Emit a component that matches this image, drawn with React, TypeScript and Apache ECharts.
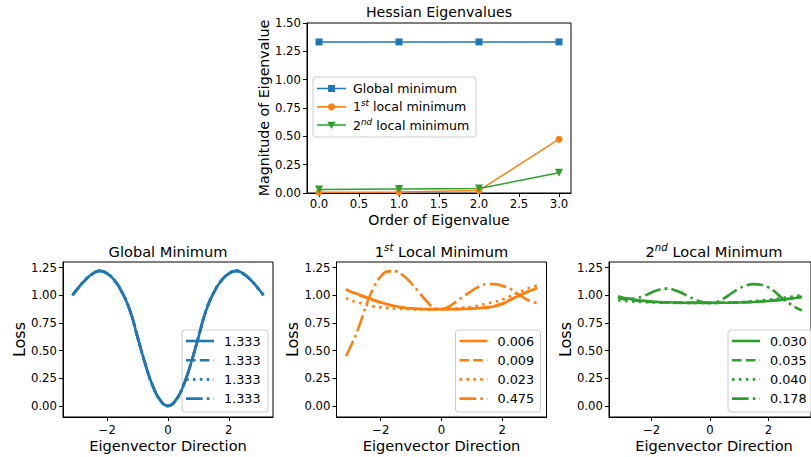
import React, { useEffect, useRef } from 'react';
import * as echarts from 'echarts';

const FONT = 'DejaVu Sans';
const BLUE = '#1f77b4';
const ORANGE = '#ff7f0e';
const GREEN = '#2ca02c';

// ---- Top chart: Hessian eigenvalues ----
const orders = [0, 1, 2, 3];
const globalEig = [1.333, 1.333, 1.333, 1.333];
const local1Eig = [0.006, 0.009, 0.023, 0.475];
const local2Eig = [0.030, 0.035, 0.040, 0.178];
const orderTicks = [0, 0.5, 1, 1.5, 2, 2.5, 3];

// ---- Bottom charts: loss along eigenvector directions ----
const directions = [-3.1416, -3.0, -2.75, -2.5, -2.25, -2.0, -1.75, -1.5, -1.25, -1.0, -0.75, -0.5, -0.25, 0, 0.25, 0.5, 0.75, 1.0, 1.25, 1.5, 1.75, 2.0, 2.25, 2.5, 2.75, 3.0, 3.1416];
const dirTicks = [-2, 0, 2];
const lossTicks = [0, 0.25, 0.5, 0.75, 1.0, 1.25];

const globalLoss = [1.00, 1.05, 1.13, 1.19, 1.22, 1.195, 1.13, 1.02, 0.86, 0.62, 0.38, 0.18, 0.05, 0.00, 0.05, 0.18, 0.38, 0.62, 0.86, 1.02, 1.13, 1.195, 1.22, 1.19, 1.13, 1.05, 1.00];
const globalLabels = ['1.333', '1.333', '1.333', '1.333'];

const local1Solid = [1.055, 1.035, 1.01, 0.985, 0.96, 0.937, 0.917, 0.9, 0.889, 0.881, 0.877, 0.875, 0.874, 0.874, 0.874, 0.875, 0.877, 0.879, 0.883, 0.888, 0.9, 0.92, 0.955, 0.99, 1.02, 1.048, 1.06];
const local1Dashed = [1.05, 1.032, 1.005, 0.98, 0.955, 0.933, 0.914, 0.898, 0.887, 0.88, 0.876, 0.874, 0.873, 0.873, 0.873, 0.874, 0.876, 0.879, 0.884, 0.891, 0.904, 0.925, 0.958, 0.992, 1.022, 1.05, 1.064];
const local1Dotted = [0.975, 0.955, 0.935, 0.915, 0.9, 0.89, 0.883, 0.878, 0.875, 0.873, 0.872, 0.872, 0.873, 0.875, 0.877, 0.88, 0.888, 0.895, 0.91, 0.925, 0.94, 0.96, 0.99, 1.02, 1.05, 1.075, 1.087];
const local1DashDot = [0.45, 0.53, 0.69, 0.89, 1.06, 1.17, 1.215, 1.215, 1.175, 1.11, 1.03, 0.95, 0.89, 0.875, 0.9, 0.945, 0.995, 1.04, 1.08, 1.1, 1.1, 1.085, 1.06, 1.015, 0.97, 0.94, 0.93];
const local1Labels = ['0.006', '0.009', '0.023', '0.475'];

const local2Solid = [0.99, 0.98, 0.967, 0.957, 0.949, 0.943, 0.939, 0.936, 0.934, 0.933, 0.932, 0.932, 0.932, 0.932, 0.932, 0.932, 0.933, 0.934, 0.936, 0.939, 0.943, 0.948, 0.953, 0.96, 0.968, 0.978, 0.985];
const local2Dashed = [0.975, 0.967, 0.958, 0.951, 0.945, 0.94, 0.937, 0.935, 0.933, 0.932, 0.931, 0.931, 0.931, 0.931, 0.931, 0.932, 0.933, 0.935, 0.938, 0.941, 0.945, 0.95, 0.956, 0.963, 0.971, 0.98, 0.988];
const local2Dotted = [0.955, 0.95, 0.945, 0.941, 0.938, 0.935, 0.933, 0.932, 0.931, 0.93, 0.93, 0.93, 0.93, 0.93, 0.931, 0.932, 0.934, 0.937, 0.941, 0.946, 0.952, 0.959, 0.967, 0.976, 0.985, 0.995, 1.0];
const local2DashDot = [0.985, 0.975, 0.968, 0.975, 0.995, 1.025, 1.05, 1.06, 1.05, 1.025, 0.99, 0.96, 0.938, 0.93, 0.94, 0.975, 1.02, 1.06, 1.09, 1.1, 1.095, 1.07, 1.025, 0.965, 0.92, 0.88, 0.865];
const local2Labels = ['0.030', '0.035', '0.040', '0.178'];

const LW = 2.6;
const DASHES: any[] = ['solid', [9.6, 4.2], [2.6, 4.3], [16.6, 4.2, 2.6, 4.2]];

const pair = (xs: number[], ys: number[]) => xs.map((x, i) => [x, ys[i]]);

const minusFmt = (v: number) => (v < 0 ? '\u2212' + Math.abs(v) : String(v));

function makeAxisCommon() {
  return {
    axisLine: { show: true, onZero: false, lineStyle: { color: '#000', width: 1 } },
    axisTick: { show: true, length: 4, lineStyle: { color: '#000', width: 1 } },
    splitLine: { show: false },
  };
}

function legendGraphic(left: number, top: number, w: number, h: number, color: string, labels: string[]) {
  const children: any[] = [
    {
      type: 'rect',
      shape: { x: left, y: top, width: w, height: h, r: 3 },
      style: { fill: 'rgba(255,255,255,0.8)', stroke: '#cccccc', lineWidth: 1 },
    },
  ];
  labels.forEach((lab, i) => {
    const y = top + 11 + i * 19.2;
    const t = DASHES[i];
    children.push({
      type: 'line',
      shape: { x1: left + 4, y1: y, x2: left + 32, y2: y },
      style: { stroke: color, lineWidth: LW, lineDash: t === 'solid' ? null : t, lineCap: 'butt' },
    });
    children.push({
      type: 'text',
      x: left + 42,
      y: y,
      style: { text: lab, fontFamily: FONT, fontSize: 12.8, fill: '#000', align: 'left', verticalAlign: 'middle' },
    });
  });
  return { type: 'group', z: 100, children };
}

function supTitle(x: number, y: number, base: string, sup: string, rest: string, size: number, align = 'center') {
  return {
    type: 'text',
    z: 100,
    x,
    y,
    style: {
      text: `{a|${base}}{s|${sup}}{a|${rest}}`,
      align,
      verticalAlign: 'middle',
      rich: {
        a: { fontFamily: FONT, fontSize: size, fill: '#000', color: '#000', lineHeight: size * 1.25 },
        s: { fontFamily: FONT, fontSize: size * 0.7, fontStyle: 'italic', fill: '#000', color: '#000', verticalAlign: 'top', lineHeight: size * 0.8 },
      },
    },
  };
}

function plainText(x: number, y: number, text: string, size: number, rotation = 0) {
  return {
    type: 'text',
    z: 100,
    x,
    y,
    rotation,
    style: { text, fontFamily: FONT, fontSize: size, fill: '#000', align: 'center', verticalAlign: 'middle' },
  };
}

export default function App() {
  const ref = useRef<HTMLDivElement>(null);
  useEffect(() => {
    if (!ref.current) return;
    const chart = echarts.init(ref.current, null, { renderer: 'svg' });

    const bottomLefts = [63, 336.5, 609];
    const grids: any[] = [
      { left: 307, top: 23, width: 264, height: 170 },
      ...bottomLefts.map((l) => ({ left: l, top: 262, width: 210, height: 155 })),
    ].map((g) => ({ ...g, show: true, borderColor: '#000', borderWidth: 1, backgroundColor: 'transparent' }));

    const xAxes: any[] = [
      {
        type: 'value', gridIndex: 0, min: -0.15, max: 3.15, ...makeAxisCommon(),
        axisTick: { show: true, length: 4, customValues: orderTicks, lineStyle: { color: '#000', width: 1 } },
        axisLabel: { customValues: orderTicks, color: '#000', fontFamily: FONT, fontSize: 11.7, margin: 5, formatter: (v: number) => v.toFixed(1) },
      },
      ...[1, 2, 3].map((gi) => ({
        type: 'value', gridIndex: gi, min: -3.4558, max: 3.4558, ...makeAxisCommon(),
        axisTick: { show: true, length: 4, customValues: dirTicks, lineStyle: { color: '#000', width: 1 } },
        axisLabel: { customValues: dirTicks, color: '#000', fontFamily: FONT, fontSize: 11.7, margin: 7, formatter: minusFmt },
      })),
    ];
    const yAxes: any[] = [
      {
        type: 'value', gridIndex: 0, min: 0, max: 1.5, interval: 0.25, ...makeAxisCommon(),
        axisLabel: { color: '#000', fontFamily: FONT, fontSize: 11.7, margin: 6, formatter: (v: number) => v.toFixed(2) },
      },
      ...[1, 2, 3].map((gi) => ({
        type: 'value', gridIndex: gi, min: -0.1, max: 1.3, ...makeAxisCommon(),
        axisTick: { show: true, length: 4, customValues: lossTicks, lineStyle: { color: '#000', width: 1 } },
        axisLabel: { customValues: lossTicks, color: '#000', fontFamily: FONT, fontSize: 11.7, margin: 6, formatter: (v: number) => v.toFixed(2) },
      })),
    ];

    const topSeries = [
      { name: 'Global minimum', data: globalEig, color: BLUE, symbol: 'rect', size: 7, rotate: 0 },
      { name: '1st local minimum', data: local1Eig, color: ORANGE, symbol: 'circle', size: 7, rotate: 0 },
      { name: '2nd local minimum', data: local2Eig, color: GREEN, symbol: 'triangle', size: 8, rotate: 180 },
    ].map((s) => ({
      type: 'line', name: s.name, xAxisIndex: 0, yAxisIndex: 0,
      data: pair(orders, s.data),
      symbol: s.symbol, symbolSize: s.size, symbolRotate: s.rotate, showSymbol: true,
      lineStyle: { color: s.color, width: 1.5 },
      itemStyle: { color: s.color, borderWidth: 0 },
      z: 3,
    }));

    const panels = [
      { color: BLUE, sets: [globalLoss, globalLoss, globalLoss, globalLoss] },
      { color: ORANGE, sets: [local1Solid, local1Dashed, local1Dotted, local1DashDot] },
      { color: GREEN, sets: [local2Solid, local2Dashed, local2Dotted, local2DashDot] },
    ];
    const bottomSeries: any[] = [];
    panels.forEach((p, pi) => {
      p.sets.forEach((ys, si) => {
        bottomSeries.push({
          type: 'line', xAxisIndex: pi + 1, yAxisIndex: pi + 1,
          data: pair(directions, ys),
          showSymbol: false, symbol: 'none', smooth: 0.5,
          lineStyle: { color: p.color, width: LW, type: DASHES[si], cap: 'butt' },
          z: 3,
        });
      });
    });

    // top legend
    const tl = { left: 313, top: 77, w: 163, h: 60 };
    const topLegend: any = {
      type: 'group', z: 100,
      children: [
        { type: 'rect', shape: { x: tl.left, y: tl.top, width: tl.w, height: tl.h, r: 3 }, style: { fill: 'rgba(255,255,255,0.8)', stroke: '#cccccc', lineWidth: 1 } },
        { type: 'line', shape: { x1: 317, y1: 88.5, x2: 346, y2: 88.5 }, style: { stroke: BLUE, lineWidth: 1.5 } },
        { type: 'rect', shape: { x: 328, y: 85, width: 7, height: 7 }, style: { fill: BLUE } },
        { type: 'line', shape: { x1: 317, y1: 106.8, x2: 346, y2: 106.8 }, style: { stroke: ORANGE, lineWidth: 1.5 } },
        { type: 'circle', shape: { cx: 331.5, cy: 106.8, r: 3.6 }, style: { fill: ORANGE } },
        { type: 'line', shape: { x1: 317, y1: 125, x2: 346, y2: 125 }, style: { stroke: GREEN, lineWidth: 1.5 } },
        { type: 'polygon', shape: { points: [[327.3, 121.8], [335.7, 121.8], [331.5, 128.9]] }, style: { fill: GREEN } },
        { type: 'text', x: 353, y: 88.5, style: { text: 'Global minimum', fontFamily: FONT, fontSize: 12.6, fill: '#000', align: 'left', verticalAlign: 'middle' } },
        supTitle(353, 106.8, '1', 'st', ' local minimum', 12.6, 'left'),
        supTitle(353, 125, '2', 'nd', ' local minimum', 12.6, 'left'),
      ],
    };

    const graphics: any[] = [
      plainText(439, 12, 'Hessian Eigenvalues', 14.2),
      plainText(439, 220, 'Order of Eigenvalue', 14.2),
      plainText(264, 108, 'Magnitude of Eigenvalue', 14.2, Math.PI / 2),
      topLegend,
      plainText(168, 251.5, 'Global Minimum', 14.6),
      supTitle(441.5, 251.5, '1', 'st', ' Local Minimum', 14.6),
      supTitle(714, 251.5, '2', 'nd', ' Local Minimum', 14.6),
      ...bottomLefts.map((l) => plainText(l + 105, 445, 'Eigenvector Direction', 14.6)),
      ...bottomLefts.map((l) => plainText(l - 44, 339.5, 'Loss', 16, Math.PI / 2)),
      legendGraphic(182, 330, 86, 82, BLUE, globalLabels),
      legendGraphic(455.5, 330, 85, 82, ORANGE, local1Labels),
      legendGraphic(728, 330, 86, 82, GREEN, local2Labels),
    ];

    chart.setOption({
      animation: false,
      backgroundColor: '#ffffff',
      grid: grids,
      xAxis: xAxes,
      yAxis: yAxes,
      series: [...topSeries, ...bottomSeries],
      graphic: graphics,
    });
    return () => chart.dispose();
  }, []);

  return <div ref={ref} style={{ position: 'fixed', left: 0, top: 0, width: 811, height: 457, background: '#fff' }} />;
}
